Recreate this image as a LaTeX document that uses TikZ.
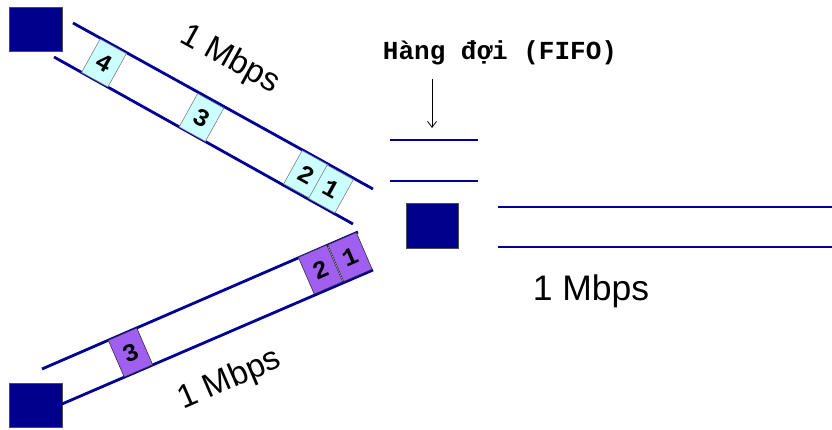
\documentclass[tikz,border=0pt]{standalone}
\usepackage{fontspec}
\setmainfont{Liberation Sans}
\setmonofont{Liberation Mono}
\usetikzlibrary{arrows.meta}
\definecolor{navy}{RGB}{0,0,140}
\definecolor{linkblue}{RGB}{0,0,150}
\definecolor{pcyan}{RGB}{204,255,255}
\definecolor{ppurple}{RGB}{160,95,240}
\begin{document}
\begin{tikzpicture}[x=1pt,y=-1pt,
  link/.style={draw=linkblue,line width=2.8pt},
  host/.style={draw=black!70,fill=navy,minimum width=53pt,minimum height=44pt,inner sep=0pt,line width=0.6pt},
  pkta/.style={draw=gray,fill=pcyan,minimum width=30pt,minimum height=38pt,inner sep=0pt,line width=0.6pt,rotate=-29,font=\ttfamily\bfseries\fontsize{25}{25}\selectfont},
  pktb/.style={draw=black!80,fill=ppurple,minimum width=31pt,minimum height=40pt,inner sep=0pt,line width=0.6pt,rotate=23.4,font=\ttfamily\bfseries\fontsize{25}{25}\selectfont},
  rate/.style={font=\fontsize{33}{33}\selectfont,inner sep=0pt}
]
\useasboundingbox (0,0) rectangle (832,430);
% hosts
\node[host] (src1) at (35.5,29) {};
\node[host] (src2) at (35.5,405) {};
\node[host,minimum width=52pt,minimum height=45pt] (router) at (432,225.5) {};
% link end points
\coordinate (a1) at (73,23);  \coordinate (a2) at (373,189);
\coordinate (b1) at (54,57);  \coordinate (b2) at (353,224);
\coordinate (c1) at (42,369); \coordinate (c2) at (358,232);
\coordinate (d1) at (62,404); \coordinate (d2) at (373,270);
\coordinate (q1) at (390,140); \coordinate (q2) at (478,140);
\coordinate (q3) at (390,181); \coordinate (q4) at (478,181);
\coordinate (o1) at (498,207); \coordinate (o2) at (832,207);
\coordinate (o3) at (498,247); \coordinate (o4) at (832,247);
\draw[link] (a1) -- (a2);
\draw[link] (b1) -- (b2);
\draw[link] (c1) -- (c2);
\draw[link] (d1) -- (d2);
\draw[link] (q1) -- (q2);
\draw[link] (q3) -- (q4);
\draw[link] (o1) -- (o2);
\draw[link] (o3) -- (o4);
% packets top link
\node[pkta] (t4) at (104,63) {4};
\node[pkta] (t3) at (201.5,117.5) {3};
\node[pkta] (t2) at (306,174.5) {2};
\node[pkta] (t1) at (331,189) {1};
% packets bottom link
\node[pktb] (u3) at (130.5,352.5) {3};
\node[pktb] (u2) at (320.5,269.5) {2};
\node[pktb] (u1) at (350,257) {1};
% rates
\node[rate,rotate=-29] (r1) at (230,60) {1 Mbps};
\node[rate,rotate=23.4] (r2) at (230,380) {1 Mbps};
\node[rate,font=\fontsize{35.5}{35.5}\selectfont] (r3) at (591,291) {1 Mbps};
% queue label
\node[font=\ttfamily\bfseries\fontsize{26}{26}\selectfont,inner sep=0pt] (ql) at (500,53) {Hàng đợi (FIFO)};
\coordinate (qa) at (432,128);
\draw[line width=0.8pt,-{Straight Barb[length=6pt,width=9pt]}] (432,79) -- (qa);
\end{tikzpicture}
\end{document}
